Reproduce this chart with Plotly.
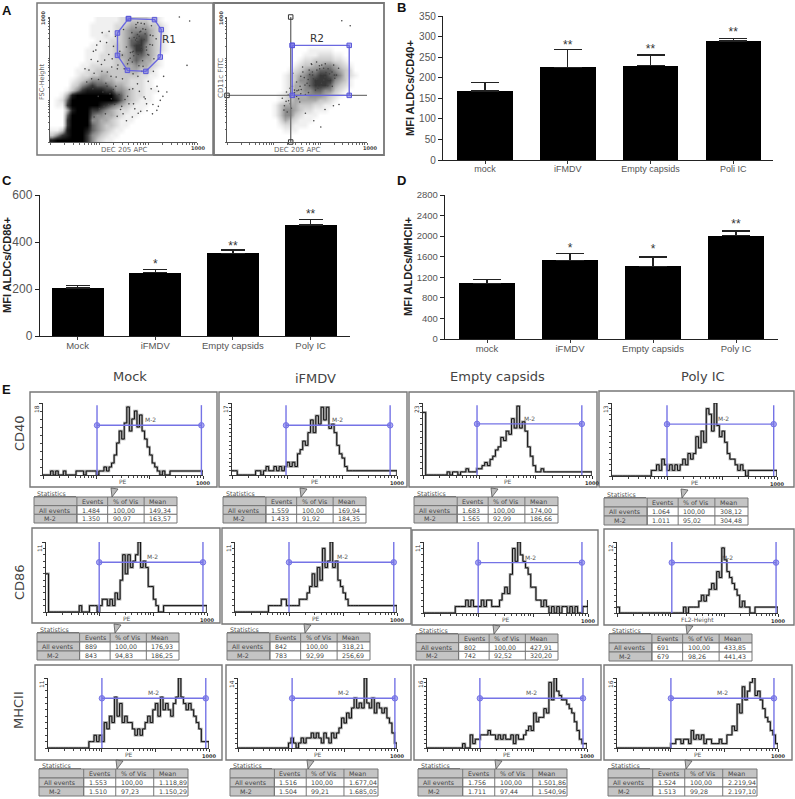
import math
import plotly.graph_objects as go

# ---------- DATA ----------
BAR_CATS_B = ["mock", "iFMDV", "Empty capsids", "Poli IC"]
BAR_VALS_B = [168, 225, 229, 289]
BAR_ERR_B = [20, 44, 26, 6]
STARS_B = ["", "**", "**", "**"]
STAR_Y_B = [0, 277, 268, 309]
TICKS_B = [0, 50, 100, 150, 200, 250, 300, 350]

BAR_CATS_C = ["Mock", "iFMDV", "Empty capsids", "Poly IC"]
BAR_VALS_C = [205, 270, 352, 473]
BAR_ERR_C = [9, 14, 14, 24]
STARS_C = ["", "*", "**", "**"]
STAR_Y_C = [0, 302, 379, 515]
TICKS_C = [0, 200, 400, 600]

BAR_CATS_D = ["mock", "iFMDV", "Empty capsids", "Poly IC"]
BAR_VALS_D = [1080, 1530, 1415, 2010]
BAR_ERR_D = [80, 136, 179, 90]
STARS_D = ["", "*", "*", "**"]
STAR_Y_D = [0, 1750, 1725, 2211]
TICKS_D = [0, 400, 800, 1200, 1600, 2000, 2400, 2800]

# density, 0 = empty ... 9 = solid black, top row first
DENSITY_A1 = [
    "000000000111112233332210000000",
    "000000001111122344443321000000",
    "000000001111123455554321000000",
    "000000001112123456664321000000",
    "000000000111223466764321000000",
    "000000001112233467754321000000",
    "000000011112233457754321000000",
    "000000011122234456654310000000",
    "000000011122233456544210000000",
    "000000112222233445443210000000",
    "000001122333333344332100000000",
    "000001223344333333221100000000",
    "000012345554433322211000000000",
    "000023567666544322211000000000",
    "000135788887755432211100000000",
    "001489999999976432211000000000",
    "012699999999986432111000000000",
    "011799999987654321110000000000",
    "000489997765432211100000000000",
    "000699996554432111000000000000",
    "000799995544321110000000000000",
    "000799996543321100000000000000",
    "113899986543211000000000000000",
    "357899975432110000000000000000",
    "899999975321100000000000000000",
]
DENSITY_A2 = [
    "0000000000000000000000000000",
    "0000000000000000000000000000",
    "0000000000000000000000000000",
    "0000000000000000000000000000",
    "0000000000000000000000000000",
    "0000000000000000000000000000",
    "0000000000000000111110000000",
    "0000000000000001112221100000",
    "0000000000000012233332210000",
    "0000000000000123344554321000",
    "0000000000001234556665432000",
    "0000000000012345667766532100",
    "0000000000012355677775431000",
    "0000000000012445677764321000",
    "0000000000012445566553210000",
    "0000000000123444555432100000",
    "0000000000123444443321000000",
    "0000000001344433322110000000",
    "0000000001355432211100000000",
    "0000000001355321110000000000",
    "0000000000243211100000000000",
    "0000000000122111000000000000",
    "0000000000011100000000000000",
    "0000000000000000000000000000",
    "0000000000000000000000000000",
]
DOTS_A1_X = [880, 950, 932, 841, 795, 727, 750, 700, 660, 600, 640, 560, 520, 600, 590, 620, 575, 610, 640, 560,
             540, 650, 680, 600, 630, 560, 700, 665, 520, 500, 585, 620, 690, 300, 350, 280, 400, 420, 450, 380,
             250, 430, 470, 510, 540, 390, 330, 360, 440, 480, 400, 300, 610, 625, 570, 595, 655, 545, 605, 585,
             312, 342, 372, 402, 432, 462, 492, 265, 295, 325, 355, 385, 415, 445, 475, 505, 535, 565, 595, 625,
             238, 283, 318, 353, 388, 423, 458, 493, 528, 563, 598, 633, 668, 703, 738, 773, 328, 368, 408, 448,
             488, 528, 568, 608, 648, 688, 728, 768, 292, 337, 377, 417, 457, 497, 537, 577, 617, 657, 697, 737,
             547, 572, 597, 622, 647, 672, 697, 722, 557, 582, 607, 632, 657, 682, 707, 532, 567, 592, 617, 642]
DOTS_A1_Y = [1000, 968, 613, 800, 400, 253, 333, 300, 250, 230, 360, 200, 170, 800, 830, 760, 770, 880, 820, 720,
             830, 900, 780, 700, 650, 640, 850, 700, 760, 900, 940, 950, 930, 550, 620, 660, 700, 600, 520, 470,
             480, 420, 380, 340, 420, 560, 500, 400, 300, 260, 300, 200, 790, 740, 690, 860, 760, 670, 610, 915,
             735, 805, 655, 885, 765, 615, 695, 575, 725, 645, 875, 795, 525, 845, 725, 585, 655, 545, 465, 565,
             585, 505, 775, 565, 445, 665, 585, 505, 625, 425, 525, 605, 485, 565, 405, 525, 365, 285, 385, 445,
             285, 365, 305, 405, 345, 425, 445, 365, 425, 265, 225, 345, 205, 225, 305, 265, 245, 305, 225, 285,
             715, 835, 955, 725, 865, 695, 775, 825, 875, 815, 845, 905, 735, 855, 665, 975, 725, 805, 885, 945]
DOTS_A2_X = [820, 880, 670, 620, 560, 700, 760, 800, 520, 460, 430, 410, 440, 480, 530, 590, 640, 700, 750, 660,
             610, 580, 720, 560, 500, 650, 690, 730, 770, 540, 470, 450, 425, 395, 605, 640, 680, 675, 625, 590,
             497, 527, 557, 587, 617, 647, 677, 707, 737, 767, 797, 512, 542, 572, 602, 632, 662, 692, 722, 752,
             782, 482, 522, 552, 582, 612, 642, 672, 702, 732, 762, 437, 467, 497, 527, 422, 452, 482, 512, 407]
DOTS_A2_Y = [970, 930, 120, 170, 230, 260, 290, 300, 320, 270, 240, 290, 330, 360, 420, 450, 500, 520, 560, 610,
             560, 500, 450, 380, 410, 430, 590, 500, 510, 600, 550, 430, 400, 350, 620, 640, 540, 470, 470, 540,
             480, 525, 455, 575, 505, 445, 615, 555, 475, 535, 590, 415, 560, 470, 625, 415, 585, 495, 585, 445,
             535, 395, 445, 515, 395, 535, 575, 445, 625, 545, 615, 375, 445, 365, 385, 325, 305, 415, 345, 255]

REGION_R1_X = [534, 711, 757, 750, 652, 527, 459, 459, 534]
REGION_R1_Y = [987, 979, 899, 680, 565, 573, 693, 872, 987]
REGION_R2_X = [466, 873, 873, 466, 466]
REGION_R2_Y = [773, 773, 373, 373, 773]
QUAD_X = 455
QUAD_Y = 373

COLUMNS = ["Mock", "iFMDV", "Empty capsids", "Poly IC"]
ROWS = ["CD40", "CD86", "MHCII"]

HIST_CD40_MOCK = [
    0, 0, 0, 1, 0, 1, 0, 0, 1, 0,
    0, 0, 0, 1, 1, 1, 0, 1, 1, 1,
    1, 0, 1, 1, 2, 1, 2, 3, 5, 8,
    11, 9, 13, 17, 11, 14, 16, 12, 15, 11,
    9, 7, 5, 3, 2, 1, 0, 1, 0, 0,
    1]
HIST_CD40_IFMDV = [
    1, 1, 0, 0, 0, 0, 0, 0, 0, 1,
    1, 0, 1, 2, 1, 1, 2, 1, 2, 1,
    2, 3, 2, 3, 2, 5, 6, 8, 7, 10,
    13, 10, 14, 12, 16, 13, 16, 11, 12, 10,
    7, 5, 4, 2, 1, 1, 1, 1]
HIST_CD40_EMPTY = [
    20, 0, 0, 0, 0, 0, 0, 0, 0, 1,
    0, 1, 1, 0, 1, 1, 2, 1, 1, 1,
    2, 2, 3, 4, 3, 5, 6, 8, 9, 12,
    11, 14, 13, 18, 15, 22, 15, 17, 14, 9,
    6, 3, 1, 1, 2, 1, 1]
HIST_CD40_POLY = [
    0, 0, 0, 0, 0, 0, 0, 0, 0, 0,
    0, 0, 0, 0, 0, 1, 1, 2, 1, 3,
    2, 1, 2, 1, 2, 1, 2, 3, 2, 4,
    3, 4, 7, 5, 8, 6, 12, 11, 8, 13,
    9, 7, 8, 6, 4, 3, 3, 2, 1, 2,
    1, 0, 1]
HIST_CD86_MOCK = [
    6, 0, 0, 0, 0, 0, 0, 0, 0, 0,
    0, 0, 0, 1, 0, 0, 0, 1, 1, 1,
    0, 1, 2, 2, 1, 2, 1, 3, 2, 5,
    9, 6, 9, 7, 8, 9, 11, 7, 8, 7,
    4, 4, 2, 1, 0, 0, 1]
HIST_CD86_IFMDV = [
    0, 0, 0, 0, 0, 0, 0, 0, 0, 0,
    0, 0, 0, 1, 1, 1, 1, 1, 2, 2,
    1, 1, 1, 1, 1, 2, 2, 2, 3, 4,
    6, 4, 7, 5, 10, 7, 8, 11, 7, 8,
    5, 4, 3, 2, 1, 1, 1, 1, 1]
HIST_CD86_EMPTY = [
    0, 0, 0, 0, 0, 0, 0, 0, 0, 0,
    0, 0, 1, 1, 1, 1, 2, 1, 2, 1,
    1, 1, 2, 1, 2, 2, 1, 1, 1, 2,
    3, 4, 3, 6, 10, 8, 11, 9, 8, 7,
    6, 4, 4, 2, 2, 1, 2, 1, 0, 1,
    0, 1, 0, 1, 1, 0, 1, 0, 1, 0,
    0, 1, 1, 2]
HIST_CD86_POLY = [
    1, 0, 0, 0, 0, 0, 0, 0, 0, 0,
    0, 0, 0, 0, 0, 0, 0, 0, 0, 0,
    0, 0, 0, 0, 0, 0, 1, 0, 1, 1,
    1, 1, 2, 3, 2, 3, 4, 5, 4, 7,
    6, 11, 9, 7, 6, 5, 4, 3, 1, 2,
    1, 1, 0, 0, 1]
HIST_MHC_MOCK = [
    0, 0, 0, 0, 0, 0, 0, 0, 0, 0,
    0, 0, 0, 0, 0, 0, 1, 1, 2, 1,
    2, 1, 4, 3, 5, 4, 8, 5, 7, 4,
    5, 4, 4, 3, 2, 3, 2, 3, 4, 5,
    4, 6, 7, 5, 8, 6, 7, 6, 5, 7,
    8, 11, 8, 7, 6, 7, 6, 5, 4, 3,
    1]
HIST_MHC_IFMDV = [
    0, 0, 0, 0, 0, 0, 0, 0, 0, 0,
    0, 0, 0, 0, 0, 0, 0, 0, 0, 0,
    1, 2, 1, 0, 1, 2, 1, 2, 2, 3,
    2, 3, 2, 1, 3, 2, 1, 3, 2, 3,
    4, 6, 5, 7, 6, 8, 10, 8, 9, 8,
    14, 9, 8, 10, 7, 9, 8, 7, 8, 6,
    5, 3, 1]
HIST_MHC_EMPTY = [
    0, 0, 0, 0, 0, 0, 0, 0, 0, 0,
    0, 0, 0, 0, 1, 0, 0, 3, 1, 2,
    2, 3, 3, 3, 4, 3, 3, 2, 3, 2,
    3, 2, 2, 3, 1, 3, 2, 2, 3, 4,
    5, 4, 8, 6, 7, 7, 9, 8, 15, 11,
    16, 13, 12, 11, 11, 10, 9, 8, 6, 4,
    2, 1]
HIST_MHC_POLY = [
    0, 0, 0, 0, 0, 0, 0, 0, 0, 0,
    0, 0, 0, 0, 0, 0, 0, 0, 0, 0,
    0, 1, 1, 2, 2, 1, 2, 2, 1, 4,
    2, 3, 2, 3, 1, 2, 2, 1, 1, 1,
    2, 1, 1, 3, 3, 5, 4, 10, 8, 14,
    11, 13, 15, 16, 12, 13, 11, 9, 7, 6,
    4, 3, 1]
HIST_SERIES = [HIST_CD40_MOCK, HIST_CD40_IFMDV, HIST_CD40_EMPTY, HIST_CD40_POLY,
               HIST_CD86_MOCK, HIST_CD86_IFMDV, HIST_CD86_EMPTY, HIST_CD86_POLY,
               HIST_MHC_MOCK, HIST_MHC_IFMDV, HIST_MHC_EMPTY, HIST_MHC_POLY]
HIST_MAX = [18, 17, 23, 13, 11, 11, 11, 12, 11, 14, 16, 16]
HIST_XLABEL = ["PE"] * 7 + ["FL2-Height"] + ["PE"] * 4
GATE_LOW = [10.3, 9.6, 9.1, 10, 9.8, 10, 9.8, 10.5, 10.1, 10.5, 9.8, 10.1]
GATE_HIGH = [933, 750, 660, 871, 841, 871, 775, 920, 871, 912, 841, 841]
GATE_LEVEL = [.69, .69, .71, .71, .71, .71, .71, .71, .71, .71, .71, .71]
GATE_TOP = [.97, .97, .97, .97, 1, 1, 1, 1, 1, 1, 1, 1]

TABLE_HEAD = ["", "Events", "% of Vis", "Mean"]
TABLE_ROWNAMES = ["All events", "M-2"]
TABLE_ALL = [
    ["1.484", "100,00", "149,34"], ["1.559", "100,00", "169,94"], ["1.683", "100,00", "174,00"], ["1.064", "100,00", "308,12"],
    ["889", "100,00", "176,93"], ["842", "100,00", "318,21"], ["802", "100,00", "427,91"], ["691", "100,00", "433,85"],
    ["1.553", "100,00", "1.118,89"], ["1.516", "100,00", "1.677,04"], ["1.756", "100,00", "1.501,86"], ["1.524", "100,00", "2.219,94"],
]
TABLE_M2 = [
    ["1.350", "90,97", "163,57"], ["1.433", "91,92", "184,35"], ["1.565", "92,99", "186,66"], ["1.011", "95,02", "304,48"],
    ["843", "94,83", "186,25"], ["783", "92,99", "256,69"], ["742", "92,52", "320,20"], ["679", "98,26", "441,43"],
    ["1.510", "97,23", "1.150,29"], ["1.504", "99,21", "1.685,05"], ["1.711", "97,44", "1.540,96"], ["1.513", "99,28", "2.197,10"],
]

# ---------- LAYOUT (pixels of the 795x799 page) ----------
W, H = 795, 799
FRAMES = [(30, 392, 217, 487), (219, 392, 407, 487), (409, 392, 597, 487), (599, 391, 794, 487),
          (32, 528, 220, 623), (222, 528, 411, 624), (412, 530, 598, 625), (604, 529, 794, 625),
          (35, 665, 222, 760), (226, 665, 411, 760), (414, 665, 601, 760), (604, 665, 792, 760)]
PLOTS = [(43, 203, 403, 475), (232, 397, 403, 475), (423, 592, 403, 475), (612, 777, 403, 476),
         (46, 207, 542, 612), (235, 397, 542, 612), (424, 588, 542, 613), (617, 778, 542, 613),
         (48, 209, 678, 748), (238, 397, 678, 748), (427, 587, 678, 748), (617, 778, 678, 748)]
M2_POS = [(150, 419), (337, 419), (529, 418), (723, 418),
          (152, 556), (342, 556), (530, 557), (727, 557),
          (153, 692), (343, 692), (531, 692), (722, 692)]
TABLES = [(34, 497, 177, 523), (223, 497, 366, 523), (414, 497, 558, 523), (604, 498, 748, 525),
          (37, 633, 179, 660), (227, 633, 370, 660), (416, 634, 558, 660), (609, 634, 752, 661),
          (39, 769, 188, 796), (230, 769, 378, 796), (418, 769, 567, 796), (608, 769, 757, 796)]
COL_FRAC = [0, .30, .515, .77, 1]

BLUE = "#7573e6"
SANS = "Liberation Sans"
DEJA = "DejaVu Sans"

fig = go.Figure()
shapes, anns = [], []
ax_n = 0


def px(x):
    return x / W


def py(y):
    return 1 - y / H


def ann(text, x, y, size, color="#333", angle=0, family=SANS, xanchor="center"):
    anns.append(dict(text=text, x=px(x), y=py(y), xref="paper", yref="paper", showarrow=False,
                     font=dict(size=size, color=color, family=family), textangle=angle,
                     xanchor=xanchor, yanchor="middle"))


def new_axes(x0, x1, ytop, ybase, xopts, yopts):
    global ax_n
    ax_n += 1
    s = "" if ax_n == 1 else str(ax_n)
    xa = dict(domain=[px(x0), px(x1)], anchor="y" + s, showgrid=False, zeroline=False, automargin=False)
    ya = dict(domain=[py(ybase), py(ytop)], anchor="x" + s, showgrid=False, zeroline=False, automargin=False)
    xa.update(xopts)
    ya.update(yopts)
    fig.update_layout(**{"xaxis" + s: xa, "yaxis" + s: ya})
    return "x" + s, "y" + s


def rect(x0, y0, x1, y1, line="#777", width=1, fill=None):
    shapes.append(dict(type="rect", xref="paper", yref="paper", x0=px(x0), x1=px(x1), y0=py(y0), y1=py(y1),
                       line=dict(color=line, width=width), fillcolor=fill, layer="below"))


# ---------- Panel A ----------
def log_channels():
    out = []
    for d in range(3):
        for m in range(1, 10):
            out.append(math.log10(m * 10 ** d) / 3 * 1000)
    out.append(1000)
    return out


DOT_SCALE = [[0, "#ffffff"], [1 / 9, "#f0f0f0"], [3 / 9, "#c8c8c8"], [5 / 9, "#8c8c8c"], [7 / 9, "#383838"], [1, "#000000"]]


def dot_panel(x0, x1, density, dx, dy):
    xa, ya = new_axes(x0, x1, 17, 142,
                      dict(range=[0, 1000], tickmode="array", tickvals=log_channels(), ticktext=[""] * 28,
                           ticks="outside", ticklen=1.5, tickcolor="#666", showline=True, linecolor="#555", linewidth=1),
                      dict(range=[0, 1000], tickmode="array", tickvals=log_channels(), ticktext=[""] * 28,
                           ticks="outside", ticklen=1.5, tickcolor="#666", showline=True, linecolor="#555", linewidth=1))
    rows = [[int(c) for c in r] for r in density][::-1]
    nr, nc = len(rows), len(rows[0])
    fig.add_trace(go.Heatmap(z=rows, x=[(c + .5) / nc * 1000 for c in range(nc)],
                             y=[(r + .5) / nr * 1000 for r in range(nr)],
                             zmin=0, zmax=9, colorscale=DOT_SCALE, zsmooth="best", showscale=False,
                             xaxis=xa, yaxis=ya, hoverinfo="skip"))
    fig.add_trace(go.Scatter(x=dx, y=dy, mode="markers", marker=dict(size=1.6, color="#444"),
                             xaxis=xa, yaxis=ya, cliponaxis=False))
    return xa, ya


xa, ya = dot_panel(50, 197, DENSITY_A1, DOTS_A1_X, DOTS_A1_Y)
fig.add_trace(go.Scatter(x=REGION_R1_X, y=REGION_R1_Y, mode="lines+markers", xaxis=xa, yaxis=ya, cliponaxis=False,
                         line=dict(color="#6a68e0", width=1.4),
                         marker=dict(symbol="square", size=4.5, color="rgba(110,108,230,.5)",
                                     line=dict(color="#5a58d8", width=1))))
xa, ya = dot_panel(227, 367, DENSITY_A2, DOTS_A2_X, DOTS_A2_Y)
fig.add_trace(go.Scatter(x=[QUAD_X, QUAD_X], y=[0, 1000], mode="lines+markers", xaxis=xa, yaxis=ya, cliponaxis=False,
                         line=dict(color="#777", width=1.4),
                         marker=dict(symbol="square-open", size=4.5, color="#333")))
fig.add_trace(go.Scatter(x=[0, 1031], y=[QUAD_Y, QUAD_Y], mode="lines+markers", xaxis=xa, yaxis=ya, cliponaxis=False,
                         line=dict(color="#777", width=1.4),
                         marker=dict(symbol="square-open", size=4.5, color="#333")))
fig.add_trace(go.Scatter(x=REGION_R2_X, y=REGION_R2_Y, mode="lines+markers", xaxis=xa, yaxis=ya, cliponaxis=False,
                         line=dict(color="#6a68e0", width=1.4),
                         marker=dict(symbol="square", size=4.5, color="rgba(110,108,230,.55)",
                                     line=dict(color="#5a58d8", width=1))))
rect(37, 3, 213, 155, "#777", 1.5)
rect(214, 3, 384, 155, "#777", 1.8)
ann("DEC 205 APC", 124, 150, 7, "#666", family=DEJA)
ann("DEC 205 APC", 297, 150, 7, "#666", family=DEJA)
ann("FSC-Height", 42, 82, 6.5, "#666", -90, DEJA)
ann("CD11c FITC", 221, 78, 7, "#666", -90, DEJA)
ann("<b>1000</b>", 198, 148, 5, "#444", family=DEJA)
ann("<b>1000</b>", 370, 148, 5, "#444", family=DEJA)
ann("<b>1000</b>", 43, 18, 5, "#444", -90, DEJA)
ann("<b>1000</b>", 221, 18, 5, "#444", -90, DEJA)
ann("R1", 169, 39, 10.5, "#333", family=DEJA)
ann("R2", 317, 38, 10.5, "#333", family=DEJA)


# ---------- Bar panels ----------
def bar_panel(box, xrange, ymax, cats, vals, errs, stars, star_y, ticks, tick_size, cat_size, cap):
    x0, x1, ytop, ybase = box
    xa, ya = new_axes(x0, x1, ytop, ybase,
                      dict(range=xrange, type="linear", tickmode="array", tickvals=list(range(len(cats))), ticktext=cats,
                           ticks="outside", ticklen=3, tickcolor="#333", tickwidth=1, ticklabelstandoff=-3,
                           showline=True, linecolor="#222", linewidth=1.4,
                           tickfont=dict(size=cat_size, color="#555", family=SANS)),
                      dict(range=[0, ymax], tickmode="array", tickvals=ticks, ticks="outside", ticklen=4,
                           tickcolor="#222", tickwidth=1.2, showline=True, linecolor="#222", linewidth=1.4,
                           tickfont=dict(size=tick_size, color="#555", family=SANS)))
    idx = list(range(len(cats)))
    fig.add_trace(go.Bar(x=idx, y=vals, width=.67, marker=dict(color="#000", line=dict(width=0)),
                         error_y=dict(type="data", array=errs, symmetric=False, color="#222", thickness=1.4, width=cap),
                         xaxis=xa, yaxis=ya))
    fig.add_trace(go.Scatter(x=idx, y=star_y, text=stars, mode="text", textposition="middle center",
                             textfont=dict(size=12, color="#333", family=SANS), xaxis=xa, yaxis=ya, cliponaxis=False))


bar_panel((443, 773, 16, 160), [-.508, 3.48], 350, BAR_CATS_B, BAR_VALS_B, BAR_ERR_B, STARS_B, STAR_Y_B, TICKS_B, 10, 9, 14)
bar_panel((40, 350, 195, 336), [-.483, 3.507], 600, BAR_CATS_C, BAR_VALS_C, BAR_ERR_C, STARS_C, STAR_Y_C, TICKS_C, 12, 9.5, 12)
bar_panel((445, 778, 195, 339), [-.506, 3.506], 2800, BAR_CATS_D, BAR_VALS_D, BAR_ERR_D, STARS_D, STAR_Y_D, TICKS_D, 9.5, 9.5, 14)
ann("<b>MFI ALDCs/CD40+</b>", 410, 88, 11, "#222", -90)
ann("<b>MFI ALDCs/CD86+</b>", 7, 265, 11, "#222", -90)
ann("<b>MFI ALDCs/MHCII+</b>", 408, 267, 11, "#222", -90)

for t, x, y in [("A", 7, 10), ("B", 401, 7), ("C", 7, 181), ("D", 401, 181), ("E", 6, 389)]:
    ann("<b>" + t + "</b>", x, y, 13, "#111")

# ---------- Titles for panel E ----------
for t, x, y in zip(COLUMNS, [130, 315, 497, 703], [376, 378, 377, 377]):
    ann(t, x, y, 13, "#444", family=DEJA)
for t, y, x in zip(ROWS, [433, 582, 710], [19, 19, 18]):
    ann(t, x, y, 13, "#444", -90, DEJA)

# ---------- Histograms ----------
for k, vals in enumerate(HIST_SERIES):
    x0, x1, ytop, ybase = PLOTS[k]
    ymax = HIST_MAX[k]
    xa, ya = new_axes(x0, x1, ytop, ybase,
                      dict(type="log", range=[0, 3], tickmode="array", tickvals=[1, 10, 100, 1000],
                           ticktext=["", "", "", "<b>1000</b>"], ticks="outside", ticklen=2.5, tickcolor="#333",
                           tickfont=dict(size=5, color="#333", family=DEJA),
                           showline=True, linecolor="#333", linewidth=1,
                           minor=dict(dtick="D1", ticks="outside", ticklen=1.5, tickcolor="#444")),
                      dict(range=[0, ymax], tickmode="array", tickvals=[ymax], ticktext=[""],
                           ticks="outside", ticklen=2.5, tickcolor="#333",
                           showline=True, linecolor="#333", linewidth=1.2,
                           minor=dict(dtick=max(1, round(ymax / 12)), ticks="outside", ticklen=1.5, tickcolor="#444")))
    xs = [10 ** (3 * i / 63) for i in range(len(vals))]
    fig.add_trace(go.Scatter(x=xs + [1000], y=vals + [0], mode="lines", line=dict(color="#a0a0a0", width=2.4, shape="hv"),
                             xaxis=xa, yaxis=ya, cliponaxis=False))
    fig.add_trace(go.Scatter(x=xs + [1000], y=vals + [0], mode="lines", line=dict(color="#111", width=1, shape="hv"),
                             xaxis=xa, yaxis=ya, cliponaxis=False))
    lo, hi = GATE_LOW[k], GATE_HIGH[k]
    lev, top = GATE_LEVEL[k] * ymax, GATE_TOP[k] * ymax
    for gx in (lo, hi):
        fig.add_trace(go.Scatter(x=[gx, gx], y=[0, top], mode="lines", line=dict(color=BLUE, width=1.4),
                                 xaxis=xa, yaxis=ya, cliponaxis=False))
    fig.add_trace(go.Scatter(x=[lo, hi], y=[lev, lev], mode="lines+markers", line=dict(color=BLUE, width=1.4),
                             marker=dict(symbol="circle", size=5.5, color="rgba(117,115,230,.6)",
                                         line=dict(color=BLUE, width=1)),
                             xaxis=xa, yaxis=ya, cliponaxis=False))
    mx, my = M2_POS[k]
    ann("M-2", mx, my, 6, "#555", family=DEJA)
    ann(str(ymax), x0 - 7, ytop + 6, 6, "#333", -90, DEJA)
    ann(HIST_XLABEL[k], x0 + (x1 - x0) * .5, ybase + 6.5, 6, "#555", family=DEJA)
    f = FRAMES[k]
    rect(f[0], f[1], f[2], f[3], "#777", 1.4)

    # statistics table
    tx0, ty0, tx1, ty1 = TABLES[k]
    tw, th = tx1 - tx0, (ty1 - ty0) / 3
    cols = [tx0 + tw * c for c in COL_FRAC]
    rect(tx0, ty0, tx1, ty0 + th, "#777", 1, "#c4c4c4")
    for rr in range(1, 3):
        rect(tx0, ty0 + th * rr, cols[1], ty0 + th * (rr + 1), "#777", 1, "#c4c4c4")
        rect(cols[1], ty0 + th * rr, tx1, ty0 + th * (rr + 1), "#777", 1, "#ffffff")
    for c in cols[1:4]:
        shapes.append(dict(type="line", xref="paper", yref="paper", x0=px(c), x1=px(c), y0=py(ty0), y1=py(ty1),
                           line=dict(color="#777", width=1), layer="below"))
    rows_text = [TABLE_HEAD, [TABLE_ROWNAMES[0]] + TABLE_ALL[k], [TABLE_ROWNAMES[1]] + TABLE_M2[k]]
    for rr, row in enumerate(rows_text):
        for cc, txt in enumerate(row):
            if not txt:
                continue
            if cc == 0:
                ann(txt, cols[0] + (3 if rr == 1 else 8), ty0 + th * (rr + .5), 6.3, "#444", family=DEJA, xanchor="left")
            else:
                ann(txt, cols[cc] + 3, ty0 + th * (rr + .5), 6.3, "#444", family=DEJA, xanchor="left")
    ann("Statistics", tx0 + 1, ty0 - 4, 6.3, "#555", family=DEJA, xanchor="left")
    shapes.append(dict(type="line", xref="paper", yref="paper", x0=px(tx0), x1=px(tx0 + 42), y0=py(ty0 - 0.5), y1=py(ty0 - 0.5),
                       line=dict(color="#777", width=1), layer="below"))
    tri = tx0 + 77
    shapes.append(dict(type="path", xref="paper", yref="paper",
                       path=f"M {px(tri)} {py(ty0 - 9)} L {px(tri + 7)} {py(ty0 - 8)} L {px(tri + 1)} {py(ty0)} Z",
                       fillcolor="#bbb", line=dict(color="#555", width=.8), layer="below"))

fig.update_layout(width=W, height=H, margin=dict(l=0, r=0, t=0, b=0), paper_bgcolor="white", plot_bgcolor="rgba(0,0,0,0)",
                  showlegend=False, hovermode=False, shapes=shapes, annotations=anns, bargap=0,
                  font=dict(family=SANS))
fig.write_html("out.html", config=dict(displayModeBar=False, responsive=False),
               post_script="document.body.style.margin='0';document.body.style.overflow='hidden';")
